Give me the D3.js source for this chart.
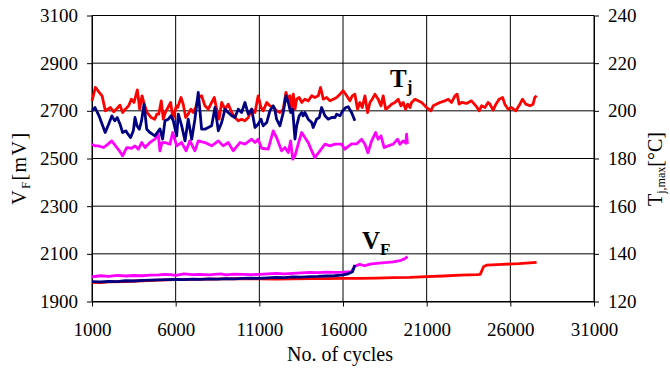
<!DOCTYPE html>
<html lang="en">
<head>
<meta charset="utf-8">
<script src="https://d3js.org/d3.v7.min.js"></script>
<style type="text/css">
body {
  margin: 0;
  background: #fff;
}
svg {
  display: block;
  font-family: "Liberation Serif", "Times New Roman", serif;
}
</style>
</head>
<body>
<div id="chart"></div>
<script type="text/javascript">
const width = 670;
const height = 369;

const xTicks = [1000, 6000, 11000, 16000, 21000, 26000, 31000];
const vfTicks = [1900, 2100, 2300, 2500, 2700, 2900, 3100];
const tjTicks = [120, 140, 160, 180, 200, 220, 240];

// junction temperature, [cycles, degC] (right axis)
const tjRed = [[1000,204.2],[1200,209.8],[1600,206.3],[1800,200],[1950,200.7],[2100,201.4],[2300,199.6],[2550,201.4],[2670,202.4],[2830,199.3],[2990,200.7],[3190,202.1],[3350,204.9],[3510,203.5],[3710,208.8],[3850,200.7],[3990,206.3],[4150,202.1],[4300,199.3],[4540,197.2],[4750,196.5],[4870,198.6],[4990,198.6],[5140,204.2],[5260,196.5],[5380,199.3],[5540,201.4],[5700,203.5],[5840,196.5],[6040,202.1],[6120,201.4],[6320,205.6],[6450,202.8],[6600,197.2],[6750,198.6],[6910,200.7],[7050,199.3],[7200,201.4],[7350,205.6],[7550,206.3],[7750,202.1],[7950,200.7],[8150,203.5],[8310,205.6],[8450,200.7],[8590,196.5],[8750,203.5],[8950,200.7],[9140,202.8],[9350,199.3],[9540,197.2],[9740,195.8],[9940,196.5],[10140,195.8],[10340,197.2],[10540,200.7],[10740,199.3],[10930,206.3],[11100,201.4],[11230,200],[11440,203.5],[11630,202.1],[11830,201.4],[12030,200],[12230,199.3],[12430,200.7],[12590,207.7],[12730,204.9],[12830,206.3],[12930,200.7],[13030,207],[13130,200.7],[13230,204.9],[13380,205.6],[13530,203.5],[13720,204.9],[13920,204.2],[14130,206.3],[14320,205.6],[14520,206.3],[14660,209.8],[14820,204.9],[15020,205.6],[15220,204.2],[15420,204.9],[15620,205.6],[15820,207],[16010,208.4],[16220,206.3],[16410,204.2],[16550,206.3],[16710,207],[16870,200.7],[17010,203.5],[17150,201.4],[17310,206.3],[17470,199.3],[17610,203.5],[17750,204.9],[17910,207],[18100,204.9],[18270,202.1],[18400,206.3],[18550,200.7],[18700,201.4],[18900,202.8],[19100,203.5],[19300,204.9],[19460,202.1],[19600,203.5],[19740,200.7],[19860,202.8],[20000,201.4],[20100,203.5],[20300,204.9],[20490,204.2],[20700,203.5],[21000,201.4],[21250,200],[21390,202.1],[21790,203.5],[22090,204.2],[22290,204.9],[22490,203.5],[22690,206.3],[22820,207],[22940,202.8],[23090,203.5],[23380,203.1],[23680,204.2],[23940,202.1],[24140,200],[24280,202.1],[24480,201.4],[24670,203.5],[24780,202.8],[24970,200.3],[25140,202.8],[25330,204.9],[25540,205.6],[25670,202.8],[25870,200.7],[26070,201.4],[26330,200],[26570,202.8],[26730,204.9],[26930,202.8],[27170,202.1],[27360,202.8],[27460,205.6],[27570,206.3]];

const tjNavy = [[1000,200],[1180,201.4],[1420,197.9],[1600,194.5],[1790,190.9],[2000,194.5],[2190,197.9],[2360,195.8],[2510,197.2],[2670,194.5],[2830,190.9],[3030,191.6],[3150,190.2],[3310,188.8],[3470,191.6],[3570,197.2],[3690,193.7],[3830,192.3],[3960,195.8],[4110,202.8],[4270,192.3],[4460,190.9],[4760,189.5],[4900,190.9],[5060,192.4],[5220,188.1],[5360,195.8],[5560,196.5],[5720,197.9],[5860,195.8],[6060,189.5],[6160,198.6],[6360,193.7],[6560,187.4],[6750,196.5],[6960,188.1],[7150,196.5],[7350,207.7],[7550,192.3],[7750,192.3],[7950,193],[8150,193.7],[8350,201.4],[8550,191.6],[8750,195.1],[8950,200.7],[9140,199.3],[9350,197.9],[9540,197.2],[9740,200.7],[9940,199.3],[10140,203.5],[10340,198.6],[10540,200.7],[10740,193],[10930,194.4],[11100,196.5],[11230,193.7],[11440,195.1],[11630,200],[11830,202.1],[11930,200.7],[12030,196.5],[12230,193.7],[12430,199.3],[12590,206.3],[12730,203.5],[12870,199.3],[12990,200.7],[13130,188.1],[13230,193.7],[13380,197.9],[13530,199.3],[13620,197.9],[13720,199.3],[13920,196.5],[14130,195.1],[14220,193],[14420,196.5],[14580,197.2],[14720,201.4],[14920,197.9],[15120,196.5],[15320,197.2],[15520,197.2],[15620,198.6],[15820,197.9],[15980,200],[16170,201.4],[16310,201.7],[16510,199.3],[16710,195.8]];

const tjMagenta = [[1000,186],[1180,185.3],[1380,185.3],[1680,184.6],[1900,185.7],[2180,187.4],[2480,184.6],[2640,183.2],[2830,181.1],[3070,184.6],[3370,184.3],[3570,185.3],[3770,183.9],[3970,186.7],[4170,184.6],[4460,186.7],[4760,188.1],[4960,190.2],[5060,183.2],[5180,186.6],[5360,186.7],[5660,186],[5820,190.9],[6060,185.3],[6360,186.7],[6620,183.2],[6850,187.4],[7150,183.2],[7350,187.4],[7750,186.7],[8150,185.3],[8550,187.4],[8840,185.3],[9140,186.7],[9440,183.2],[9840,186.7],[10140,186],[10540,188.1],[10740,186.7],[10930,188.1],[11140,184.3],[11530,183.9],[11830,191.6],[12030,188.8],[12330,183.2],[12530,184.6],[12730,182.5],[12870,187.4],[12990,179.7],[13130,181.1],[13320,186],[13530,190.9],[13720,188.8],[13920,186.7],[14130,183.2],[14320,180.4],[14620,183.2],[14920,186],[15220,185.3],[15520,186],[15920,186],[16110,183.9],[16510,186.1],[16810,186.1],[17110,188.1],[17310,186],[17490,182.4],[17710,187.4],[17950,190.9],[18100,188.1],[18270,189.5],[18460,184.6],[18700,185.3],[19000,186],[19260,188.1],[19400,186],[19600,187.4],[19760,186.4],[19800,190.2],[19850,186.1]];

// forward voltage, [cycles, mV] (left axis)
const vfRed = [[1000,1980],[1500,1979],[2000,1982],[3000,1984],[4000,1987],[5000,1990],[6000,1992],[7000,1993],[8000,1994],[9000,1995],[10000,1996],[11000,1995],[12000,1994],[13000,1995],[14000,1996],[15000,1996],[16000,1997],[17000,1997],[18000,1998],[19000,2000],[20000,2001],[21000,2004],[22000,2007],[23000,2011],[24000,2013],[24200,2014],[24400,2046],[24600,2053],[25500,2056],[26500,2059],[27570,2064]];

const vfNavy = [[1000,1983],[1500,1982],[2000,1984],[2500,1983],[3000,1987],[3500,1986],[4000,1989],[4500,1990],[5000,1991],[5500,1992],[6000,1993],[6500,1992],[7000,1994],[7500,1993],[8000,1995],[8500,1994],[9000,1996],[9500,1995],[10000,1997],[10500,1998],[11000,1997],[11500,1999],[12000,2001],[12500,2000],[13000,2003],[13500,2002],[14000,2004],[14500,2005],[15000,2007],[15500,2008],[16000,2012],[16300,2016],[16570,2025],[16710,2053]];

const vfMagenta = [[1000,2003],[1500,2008],[2000,2005],[2500,2010],[3000,2007],[3500,2009],[4000,2008],[4500,2011],[5000,2012],[5300,2014],[5700,2013],[6000,2010],[6500,2016],[7000,2013],[7500,2014],[8000,2012],[8300,2014],[8700,2016],[9000,2012],[9500,2015],[10000,2014],[10500,2013],[11000,2014],[11500,2016],[12000,2018],[12500,2016],[13000,2018],[13500,2020],[14000,2022],[14500,2021],[15000,2023],[15500,2022],[16000,2023],[16500,2025],[16700,2048],[17000,2056],[17300,2050],[17600,2057],[18000,2060],[18500,2063],[19000,2066],[19400,2071],[19700,2080],[19850,2088]];

const plot = {left: 92, right: 594, top: 15.5, bottom: 301.5};

let x = d3.scaleLinear()
  .domain([1000, 31000])
  .range([plot.left, plot.right]);

let yV = d3.scaleLinear()
  .domain([1900, 3100])
  .range([plot.bottom, plot.top]);

let yT = d3.scaleLinear()
  .domain([120, 240])
  .range([plot.bottom, plot.top]);

let svg = d3.select("#chart").append("svg")
  .attr("width", width)
  .attr("height", height);

// grid
svg.append("g")
  .selectAll("line")
  .data(vfTicks)
  .join("line")
    .attr("x1", plot.left)
    .attr("x2", plot.right)
    .attr("y1", d => yV(d))
    .attr("y2", d => yV(d))
    .attr("stroke", "#000");

svg.append("g")
  .selectAll("line")
  .data(xTicks)
  .join("line")
    .attr("x1", d => x(d))
    .attr("x2", d => x(d))
    .attr("y1", plot.top)
    .attr("y2", plot.bottom)
    .attr("stroke", "#000");

let styleAxis = g => g
  .attr("font-family", "Liberation Serif, Times New Roman, serif")
  .attr("font-size", 19)
  .call(g => g.select(".domain").attr("stroke", "#000"))
  .call(g => g.selectAll(".tick line").attr("stroke", "#000"))
  .call(g => g.selectAll(".tick text").attr("fill", "#000"));

svg.append("g")
  .attr("transform", `translate(${plot.left},0)`)
  .call(d3.axisLeft(yV).tickValues(vfTicks).tickFormat(d3.format("d"))
    .tickSize(5).tickSizeOuter(0).tickPadding(9))
  .call(styleAxis);

svg.append("g")
  .attr("transform", `translate(${plot.right},0)`)
  .call(d3.axisRight(yT).tickValues(tjTicks).tickFormat(d3.format("d"))
    .tickSize(5).tickSizeOuter(0).tickPadding(9))
  .call(styleAxis);

svg.append("g")
  .attr("transform", `translate(0,${plot.bottom})`)
  .call(d3.axisBottom(x).tickValues(xTicks).tickFormat(d3.format("d"))
    .tickSize(5).tickSizeOuter(0).tickPadding(16))
  .call(styleAxis);

// series
let lineV = d3.line()
  .x(d => x(d[0]))
  .y(d => yV(d[1]));

let lineT = d3.line()
  .x(d => x(d[0]))
  .y(d => yT(d[1]));

let series = [
  {data: vfRed, line: lineV, color: "#ff0000"},
  {data: vfMagenta, line: lineV, color: "#ff00ff"},
  {data: vfNavy, line: lineV, color: "#000080"},
  {data: tjRed, line: lineT, color: "#ff0000"},
  {data: tjMagenta, line: lineT, color: "#ff00ff"},
  {data: tjNavy, line: lineT, color: "#000080"}
];

svg.append("g")
  .selectAll("path")
  .data(series)
  .join("path")
    .attr("fill", "none")
    .attr("stroke", d => d.color)
    .attr("stroke-width", 2.8)
    .attr("stroke-linejoin", "round")
    .attr("d", d => d.line(d.data));

// annotations
let tjLabel = svg.append("text")
  .attr("x", 390)
  .attr("y", 87)
  .attr("font-weight", "bold")
  .attr("font-size", 25);
tjLabel.append("tspan").text("T");
tjLabel.append("tspan").attr("font-size", 17).attr("dy", 5).text("j");

let vfLabel = svg.append("text")
  .attr("x", 362)
  .attr("y", 249)
  .attr("font-weight", "bold")
  .attr("font-size", 25);
vfLabel.append("tspan").text("V");
vfLabel.append("tspan").attr("font-size", 17).attr("dy", 6).text("F");

// axis titles
svg.append("text")
  .attr("x", 340)
  .attr("y", 361)
  .attr("text-anchor", "middle")
  .attr("font-size", 20)
  .text("No. of cycles");

let leftTitle = svg.append("text")
  .attr("transform", "translate(26,168) rotate(-90)")
  .attr("text-anchor", "middle")
  .attr("font-size", 20)
  .attr("letter-spacing", 1.5);
leftTitle.append("tspan").text("V");
leftTitle.append("tspan").attr("font-size", 12).attr("dy", 4).text("F");
leftTitle.append("tspan").attr("dy", -4).text("[mV]");

let rightTitle = svg.append("text")
  .attr("transform", "translate(662,169) rotate(-90)")
  .attr("text-anchor", "middle")
  .attr("font-size", 20);
rightTitle.append("tspan").text("T");
rightTitle.append("tspan").attr("font-size", 12).attr("dy", 3).text("j,max");
rightTitle.append("tspan").attr("dy", -3).text("[°C]");
</script>
</body>
</html>
